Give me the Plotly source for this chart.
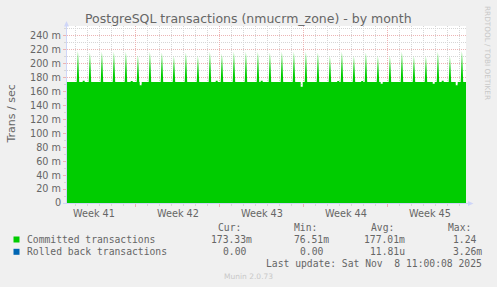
import pandas as pd
import plotly.graph_objects as go

# ---------------- data ----------------
x_start = "2025-10-07 06:36"
x_end = "2025-11-09 12:36"
baseline_level = 173.5  # m trans/sec

# daily spikes (~04:30 each day)
spike_times = list(pd.date_range("2025-10-08 04:30", periods=33, freq="D"))
spike_peaks = [218, 216, 217, 217, 217, 212, 217, 216, 211, 216, 211,
               217, 214, 217, 217, 217, 216, 217, 217, 217, 216, 211,
               217, 211, 216, 211, 211, 217, 211, 211, 217, 211, 218]

# small bumps / dips in the baseline
bump_times = ["2025-10-08 16:00", "2025-10-12 16:00", "2025-10-13 10:00",
              "2025-10-19 18:00", "2025-10-23 12:00", "2025-10-26 20:00",
              "2025-10-29 21:00", "2025-10-31 21:00", "2025-11-02 12:00",
              "2025-11-06 20:00", "2025-11-07 14:00", "2025-11-08 18:00"]
bump_vals = [175.5, 175.2, 169.0, 175.3, 175.5, 167.0,
             175.2, 175.2, 171.0, 171.0, 175.3, 169.0]

rolled_back = [0.0, 0.0]

week_labels = ["Week 41", "Week 42", "Week 43", "Week 44", "Week 45"]
week_centers = ["2025-10-09 12:00", "2025-10-16 12:00", "2025-10-23 12:00",
                "2025-10-30 12:00", "2025-11-06 12:00"]
week_bounds = ["2025-10-13", "2025-10-20", "2025-10-27", "2025-11-03"]

y_tickvals = [0, 20, 40, 60, 80, 100, 120, 140, 160, 180, 200, 220, 240]
y_ticktext = ["0"] + [f"{v} m" for v in y_tickvals[1:]]

series_names = ["Committed transactions", "Rolled back transactions"]
series_colors = ["#00cc00", "#0066b3"]
cur_vals = ["173.33m", "0.00"]
min_vals = ["76.51m", "0.00"]
avg_vals = ["177.01m", "11.81u"]
max_vals = ["1.24", "3.26m"]
last_update = "Last update: Sat Nov \u00a08 11:00:08 2025"

# ---------------- build committed series ----------------
H = pd.Timedelta(hours=1)
pts = [(pd.Timestamp(x_start), baseline_level), (pd.Timestamp(x_end), baseline_level)]
for t, v in zip(spike_times, spike_peaks):
    pts += [(t - 2.5 * H, baseline_level), (t, v), (t + 2.5 * H, baseline_level)]
for t, v in zip(bump_times, bump_vals):
    t = pd.Timestamp(t)
    pts += [(t - 2 * H, baseline_level), (t - 2 * H + pd.Timedelta(seconds=1), v),
            (t + 2 * H - pd.Timedelta(seconds=1), v), (t + 2 * H, baseline_level)]
pts.sort(key=lambda p: p[0])
cx = [p[0] for p in pts]
cy = [p[1] for p in pts]

# ---------------- geometry helpers ----------------
W, Hh = 497, 287
X0, X1, Y0, Y1 = 67, 466, 26, 203


def px(x):
    return (x - X0) / (X1 - X0)


def py(y):
    return (Y1 - y) / (Y1 - Y0)


FONT = "DejaVu Sans"
MONO = "DejaVu Sans Mono"
TXT = "#666666"
GRID = "#d6d6d6"
MGRID = "#ecb4b4"
AXIS = "#CFD6F8"

fig = go.Figure()
fig.add_trace(go.Scatter(x=cx, y=cy, mode="lines", line=dict(width=0, color=series_colors[0]),
                         fill="tozeroy", fillcolor=series_colors[0], showlegend=False,
                         hoverinfo="skip"))
fig.add_trace(go.Scatter(x=[x_start, x_end], y=rolled_back, mode="lines",
                         line=dict(width=0, color=series_colors[1]), showlegend=False,
                         hoverinfo="skip"))

fig.update_layout(
    width=W, height=Hh,
    margin=dict(l=X0, r=W - X1, t=Y0, b=Hh - Y1, autoexpand=False),
    paper_bgcolor="#f0f0f0", plot_bgcolor="#ffffff",
    showlegend=False,
    font=dict(family=FONT, size=9.7, color=TXT),
)
fig.update_xaxes(
    type="date", range=[x_start, x_end], showline=False, zeroline=False,
    tickmode="array", tickvals=week_bounds, ticktext=[""] * len(week_bounds),
    showgrid=True, gridcolor=MGRID, griddash="1px,1px", gridwidth=1,
    ticks="outside", ticklen=3, tickcolor=MGRID,
    minor=dict(dtick=86400000, tick0="2025-10-06", showgrid=True, gridcolor=GRID,
               griddash="1px,1px", ticks="outside", ticklen=2, tickcolor=GRID),
)
fig.update_yaxes(
    range=[0, 254], showline=False, zeroline=False,
    tickmode="array", tickvals=y_tickvals, ticktext=y_ticktext,
    showgrid=True, gridcolor=MGRID, griddash="1px,1px", gridwidth=1,
    ticks="outside", ticklen=3, tickcolor=MGRID,
    tickfont=dict(family=FONT, size=9.7, color=TXT),
    minor=dict(dtick=10, tick0=0, showgrid=True, gridcolor=GRID,
               griddash="1px,1px", ticks="outside", ticklen=2, tickcolor=GRID),
)

shapes = []
# axis lines + arrows
shapes.append(dict(type="line", xref="paper", yref="paper",
                   x0=px(66.5), x1=px(66.5), y0=py(204), y1=py(23),
                   line=dict(color=AXIS, width=1)))
shapes.append(dict(type="path", xref="paper", yref="paper",
                   path=f"M {px(64)},{py(26.5)} L {px(69)},{py(26.5)} L {px(66.5)},{py(21)} Z",
                   fillcolor=AXIS, line=dict(width=0)))
shapes.append(dict(type="line", xref="paper", yref="paper",
                   x0=px(63), x1=px(470), y0=py(203.5), y1=py(203.5),
                   line=dict(color=AXIS, width=1)))
shapes.append(dict(type="path", xref="paper", yref="paper",
                   path=f"M {px(468)},{py(201)} L {px(468)},{py(206)} L {px(473.5)},{py(203.5)} Z",
                   fillcolor=AXIS, line=dict(width=0)))
# legend squares
for i, c in enumerate(series_colors):
    yc = 239.5 + 12.3 * i
    shapes.append(dict(type="rect", xref="paper", yref="paper",
                       x0=px(13.5), x1=px(19.5), y0=py(yc - 3), y1=py(yc + 3),
                       fillcolor=c, line=dict(width=0)))
fig.update_layout(shapes=shapes)

ann = []


def text(x, y, s, size=9.7, family=FONT, color=TXT, xanchor="left", angle=0):
    ann.append(dict(x=px(x), y=py(y), xref="paper", yref="paper", text=s, showarrow=False,
                    xanchor=xanchor, yanchor="middle", textangle=angle,
                    font=dict(family=family, size=size, color=color), borderpad=0))


text(248.5, 18.5, "PostgreSQL transactions (nmucrm_zone) - by month", size=12.5, xanchor="center")
text(11, 114.5, "Trans / sec", size=11, xanchor="center", angle=-90)
text(487.5, 53.5, "RRDTOOL / TOBI OETIKER", size=7.3, color="#c8c8c8", xanchor="center", angle=90)
for lab, xc in zip(week_labels, week_centers):
    ann.append(dict(x=xc, y=py(213), xref="x", yref="paper", text=lab, showarrow=False,
                    xanchor="center", yanchor="middle", font=dict(family=FONT, size=9.7, color=TXT)))

# legend table
text(217, 227.5, "Cur:", family=MONO)
text(293.3, 227.5, "Min:", family=MONO)
text(370, 227.5, "Avg:", family=MONO)
text(446.7, 227.5, "Max:", family=MONO)
col_right = [253.3, 330, 406, 483]
for i, name in enumerate(series_names):
    yc = 239.5 + 12.3 * i
    text(26.3, yc, name, family=MONO)
    for r, vals in zip(col_right, [cur_vals, min_vals, avg_vals, max_vals]):
        v = vals[i]
        s = v if v[-1].isalpha() else v + "\u00a0"
        text(r, yc, s, family=MONO, xanchor="right")
text(483, 263.8, last_update, family=MONO, xanchor="right")
text(248, 276.5, "Munin 2.0.73", size=7.5, color="#c8c8c8", xanchor="center")

fig.update_layout(annotations=ann)
fig.write_html("out.html")
